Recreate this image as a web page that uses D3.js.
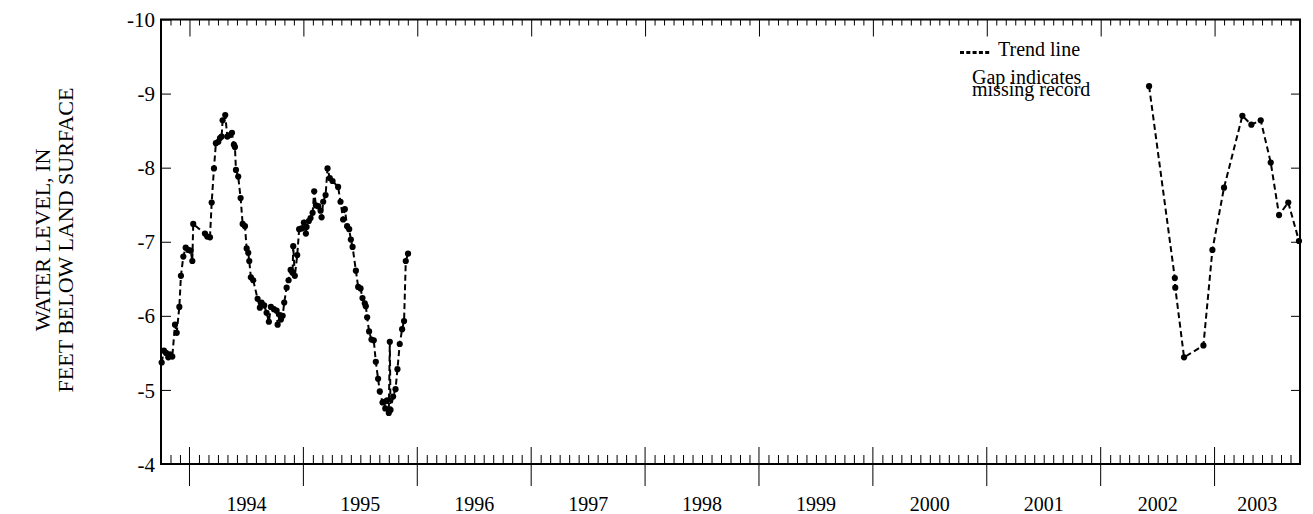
<!DOCTYPE html>
<html>
<head>
<meta charset="utf-8">
<script src="https://cdn.jsdelivr.net/npm/d3@7"></script>
<style>
  html, body { margin: 0; padding: 0; background: #fff; }
  svg { display: block; }
  text { font-family: "Liberation Serif", "Times New Roman", serif; fill: #000; }
</style>
</head>
<body>
<svg id="chart" width="1313" height="514"></svg>
<script>
// ---- Data (decimal year, water level in feet; negative = below land surface as plotted) ----
const seg1Dates = [
  1993.756, 1993.776, 1993.794, 1993.814, 1993.829, 1993.849, 1993.873, 1993.888, 1993.911, 1993.925,
  1993.946, 1993.967, 1993.989, 1994.011, 1994.025, 1994.033, 1994.136, 1994.156, 1994.180, 1994.195,
  1994.215, 1994.232, 1994.253, 1994.268, 1994.282, 1994.291, 1994.314, 1994.332, 1994.355, 1994.373,
  1994.390, 1994.399, 1994.408, 1994.428, 1994.449, 1994.467, 1994.487, 1994.502, 1994.516, 1994.525,
  1994.539, 1994.560, 1994.598, 1994.618, 1994.633, 1994.656, 1994.677, 1994.697, 1994.715, 1994.741,
  1994.765, 1994.774, 1994.794, 1994.803, 1994.818, 1994.832, 1994.853, 1994.870, 1994.888, 1994.905,
  1994.911, 1994.925, 1994.946, 1994.963, 1994.984, 1995.004, 1995.022, 1995.028, 1995.048, 1995.063,
  1995.081, 1995.095, 1995.110, 1995.130, 1995.151, 1995.160, 1995.174, 1995.195, 1995.212, 1995.232,
  1995.256, 1995.305, 1995.326, 1995.349, 1995.364, 1995.384, 1995.402, 1995.417, 1995.432, 1995.461,
  1995.481, 1995.502, 1995.519, 1995.539, 1995.548, 1995.560, 1995.577, 1995.598, 1995.618, 1995.636,
  1995.656, 1995.671, 1995.695, 1995.711, 1995.719, 1995.735, 1995.750, 1995.759, 1995.765, 1995.788,
  1995.809, 1995.826, 1995.846, 1995.867, 1995.884, 1995.899, 1995.919
];
const seg1Levels = [
  -5.37, -5.53, -5.50, -5.44, -5.48, -5.45, -5.88, -5.77, -6.12, -6.54,
  -6.80, -6.92, -6.89, -6.88, -6.74, -7.24, -7.11, -7.07, -7.06, -7.53,
  -7.99, -8.33, -8.35, -8.40, -8.42, -8.64, -8.71, -8.42, -8.44, -8.47,
  -8.31, -8.28, -7.97, -7.88, -7.59, -7.24, -7.21, -6.91, -6.85, -6.74,
  -6.52, -6.48, -6.23, -6.11, -6.18, -6.14, -6.04, -5.92, -6.12, -6.09,
  -6.07, -5.88, -6.01, -5.95, -6.00, -6.18, -6.38, -6.48, -6.62, -6.58,
  -6.94, -6.54, -6.82, -7.17, -7.18, -7.26, -7.11, -7.20, -7.28, -7.32,
  -7.39, -7.68, -7.49, -7.48, -7.42, -7.33, -7.54, -7.63, -7.99, -7.86,
  -7.82, -7.74, -7.54, -7.30, -7.44, -7.21, -7.17, -7.03, -6.93, -6.61,
  -6.39, -6.37, -6.24, -6.17, -6.13, -5.98, -5.79, -5.68, -5.67, -5.38,
  -5.15, -4.98, -4.83, -4.84, -4.75, -4.86, -4.69, -5.65, -4.73, -4.91,
  -5.01, -5.28, -5.62, -5.82, -5.93, -6.74, -6.84
];
const seg2Dates = [
  2002.425, 2002.651, 2002.655, 2002.732, 2002.902, 2002.981, 2003.083,
  2003.244, 2003.323, 2003.405, 2003.493, 2003.566, 2003.647, 2003.741
];
const seg2Levels = [
  -9.10, -6.51, -6.38, -5.44, -5.60, -6.89, -7.73,
  -8.70, -8.58, -8.64, -8.07, -7.36, -7.53, -7.01
];
const yTicks = [-10, -9, -8, -7, -6, -5, -4];
const yearLabels = [1994, 1995, 1996, 1997, 1998, 1999, 2000, 2001, 2002, 2003];
const xDomain = [1993.75, 2003.75];
const yDomain = [-10, -4];
const yTitleLines = ["WATER LEVEL, IN", "FEET BELOW LAND SURFACE"];
const legendLines = ["Trend line", "Gap indicates", "missing record"];

// ---- Layout ----
const L = 161, R = 1300, T = 19.5, B = 464;
const svg = d3.select("#chart");
const x = d3.scaleLinear().domain(xDomain).range([L, R]);
const y = d3.scaleLinear().domain(yDomain).range([T, B]);

// month ticks
const monthTicks = d3.range(Math.round(xDomain[0] * 12) + 1, Math.round(xDomain[1] * 12)).map(m => m / 12);
const yearTicks = monthTicks.filter(m => Math.abs(m - Math.round(m)) < 1e-6);
const minorTicks = monthTicks.filter(m => Math.abs(m - Math.round(m)) >= 1e-6);

// Bottom axis (ticks inward/up, majors crossing)
const bottomMinor = d3.axisBottom(x).tickValues(minorTicks).tickSize(-9).tickFormat("");
const gb = svg.append("g").attr("transform", `translate(0,${B})`).call(bottomMinor);
gb.select(".domain").remove();
gb.selectAll(".tick line").attr("stroke", "#000").attr("stroke-width", 1);
const gbMaj = svg.append("g");
gbMaj.selectAll("line").data(yearTicks).join("line")
  .attr("x1", d => x(d)).attr("x2", d => x(d))
  .attr("y1", B - 17).attr("y2", B + 22)
  .attr("stroke", "#000").attr("stroke-width", 1);

// Top axis (ticks inward/down)
const topMinor = d3.axisTop(x).tickValues(minorTicks).tickSize(-6).tickFormat("");
const gt = svg.append("g").attr("transform", `translate(0,${T})`).call(topMinor);
gt.select(".domain").remove();
gt.selectAll(".tick line").attr("stroke", "#000").attr("stroke-width", 1);
const topMajor = d3.axisTop(x).tickValues(yearTicks).tickSize(-17).tickFormat("");
const gt2 = svg.append("g").attr("transform", `translate(0,${T})`).call(topMajor);
gt2.select(".domain").remove();
gt2.selectAll(".tick line").attr("stroke", "#000").attr("stroke-width", 1);

// Left axis
const leftAxis = d3.axisLeft(y).tickValues(yTicks).tickSize(-10).tickPadding(6).tickFormat(d3.format("d"));
const gl = svg.append("g").attr("transform", `translate(${L},0)`).call(leftAxis);
gl.select(".domain").remove();
gl.selectAll(".tick line").attr("stroke", "#000").attr("stroke-width", 1);
gl.selectAll(".tick text").attr("font-size", 21).attr("font-family", "Liberation Serif, Times New Roman, serif")
  .attr("fill", "#000").attr("x", -6).attr("dy", "0.34em").text(d => String(d).replace("−", "-"));

// Right axis
const rightAxis = d3.axisRight(y).tickValues(yTicks).tickSize(-9).tickFormat("");
const gr = svg.append("g").attr("transform", `translate(${R},0)`).call(rightAxis);
gr.select(".domain").remove();
gr.selectAll(".tick line").attr("stroke", "#000").attr("stroke-width", 1);

// Frame
svg.append("rect").attr("x", L).attr("y", T).attr("width", R - L).attr("height", B - T)
  .attr("fill", "none").attr("stroke", "#000").attr("stroke-width", 2);

// Year labels centred in the visible part of each year
svg.append("g").selectAll("text").data(yearLabels).join("text")
  .attr("x", d => (x(Math.max(d, xDomain[0])) + x(Math.min(d + 1, xDomain[1]))) / 2)
  .attr("y", 511)
  .attr("text-anchor", "middle")
  .attr("font-size", 20)
  .text(d => d);

// Y title
const yt = svg.append("g").attr("transform", `translate(0,240) rotate(-90)`);
yt.selectAll("text").data(yTitleLines).join("text")
  .attr("x", 0).attr("y", (d, i) => 50 + i * 23)
  .attr("text-anchor", "middle")
  .attr("font-size", 22)
  .text(d => d);

// Data lines + points
const line = d3.line().x(d => x(d[0])).y(d => y(d[1]));
const segs = [
  d3.zip(seg1Dates, seg1Levels),
  d3.zip(seg2Dates, seg2Levels)
];
segs.forEach(seg => {
  svg.append("path").datum(seg).attr("d", line)
    .attr("fill", "none").attr("stroke", "#000").attr("stroke-width", 2)
    .attr("stroke-dasharray", "6,3.5");
  svg.append("g").selectAll("circle").data(seg).join("circle")
    .attr("cx", d => x(d[0])).attr("cy", d => y(d[1])).attr("r", 3.1).attr("fill", "#000");
});

// Legend
svg.append("line").attr("x1", 960).attr("x2", 991).attr("y1", 52.5).attr("y2", 52.5)
  .attr("stroke", "#000").attr("stroke-width", 3).attr("stroke-dasharray", "4,2.3");
svg.append("text").attr("x", 998).attr("y", 56).attr("font-size", 20).text(legendLines[0]);
svg.append("text").attr("x", 972).attr("y", 83.5).attr("font-size", 20).text(legendLines[1]);
svg.append("text").attr("x", 972).attr("y", 96).attr("font-size", 20).text(legendLines[2]);
</script>
</body>
</html>
